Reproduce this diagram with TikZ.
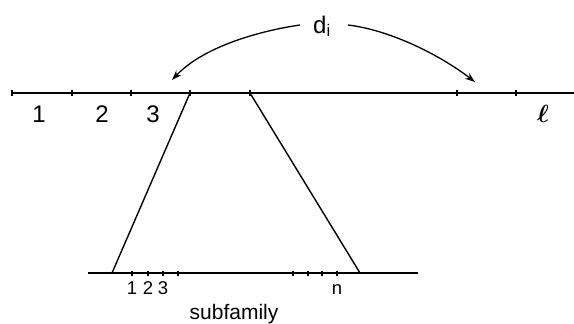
\documentclass[tikz,border=0pt]{standalone}
\usepackage{amsmath}
\usepackage{fontspec}
\setmainfont{Liberation Sans}
\usetikzlibrary{arrows.meta}
\begin{document}
\begin{tikzpicture}[x=1pt,y=-1pt,line width=1.4pt,
  tk/.style={line width=1.1pt},
  toplab/.style={anchor=base,inner sep=0pt,font=\fontsize{24}{26}\selectfont},
  botlab/.style={anchor=base,inner sep=0pt,font=\fontsize{18.5}{20}\selectfont},
  arr/.style={-{Stealth[length=10pt,width=7pt]},line width=1.3pt}]
\useasboundingbox (0,0) rectangle (574,324);
% top line
\coordinate (A0) at (12,93);
\coordinate (A1) at (72,93);
\coordinate (A2) at (131,93);
\coordinate (T1) at (190,93);
\coordinate (T2) at (250,93);
\coordinate (A5) at (457,93);
\coordinate (A6) at (516,93);
\coordinate (AE) at (574,93);
\draw (A0) -- (AE);
\foreach \p in {A0,A1,A2,T1,T2,A5,A6}{\draw[tk] (\p) ++(0,-3) -- ++(0,6);}
% bottom line
\coordinate (B0) at (88,273);
\coordinate (B1) at (112,273);
\coordinate (B2) at (360,273);
\coordinate (BE) at (418,273);
\draw (B0) -- (BE);
\foreach \x in {132,148,163,178,293,308,322,337}{\draw[tk] (\x,273) ++(0,-2.5) -- ++(0,5);}
% trapezoid sides
\draw (T1) -- (B1);
\draw (T2) -- (B2);
% labels
\node[toplab] (l1) at (39,122) {1};
\node[toplab] (l2) at (102,122) {2};
\node[toplab] (l3) at (153,122) {3};
\node[toplab] (ll) at (543,122) {$\boldsymbol{\ell}$};
\node[botlab] (m1) at (132,294) {1};
\node[botlab] (m2) at (148,294) {2};
\node[botlab] (m3) at (163,294) {3};
\node[botlab] (mn) at (337,294) {n};
\node[botlab,font=\fontsize{21}{23}\selectfont] (sf) at (234,319) {subfamily};
\node[anchor=base,inner sep=0pt,font=\fontsize{24}{26}\selectfont] (d) at (322,33) {d\textsubscript{i}};
% arrows
\coordinate (dl) at (300,25);
\coordinate (dr) at (348,25);
\coordinate (tl) at (172,80);
\coordinate (tr) at (475,82);
\draw[arr] (dl) .. controls (265,30) and (205,45) .. (tl);
\draw[arr] (dr) .. controls (390,30) and (440,55) .. (tr);
\end{tikzpicture}
\end{document}
